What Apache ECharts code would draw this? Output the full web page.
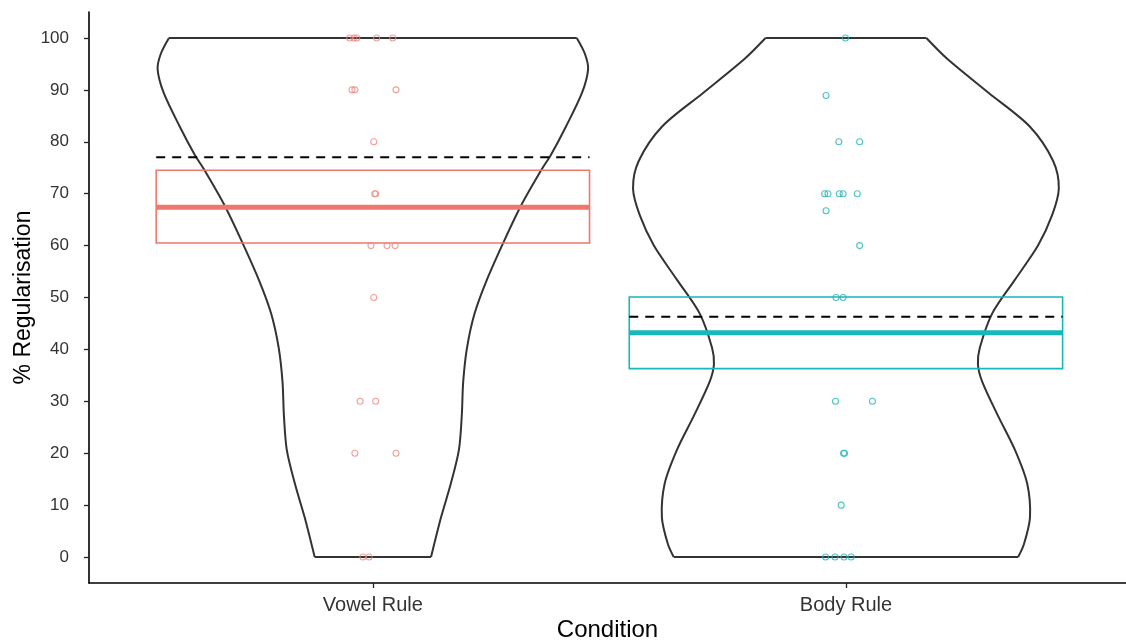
<!DOCTYPE html>
<html><head><meta charset="utf-8">
<script src="https://cdn.jsdelivr.net/npm/echarts@6/dist/echarts.min.js"></script>
<style>html,body{margin:0;padding:0;background:#fff}#c{width:1126px;height:643px}</style>
</head><body><div id="c"></div>
<script>
// ---- data ----
const categories = ['Vowel Rule', 'Body Rule'];
const categoryX = [1, 2];
const yTicks = [0, 10, 20, 30, 40, 50, 60, 70, 80, 90, 100];
const xTitle = 'Condition';
const yTitle = '% Regularisation';

// violin density profiles: value and half-width (in x-axis units)
const vowelViolinY    = [0, 7.6, 14.2, 20.7, 27.3, 33.8, 40.3, 46.9, 53.4, 61.2, 68, 75, 77.4, 82.9, 89.4, 94, 97, 100];
const vowelViolinHalf = [0.123, 0.144, 0.165, 0.182, 0.188, 0.191, 0.199, 0.215, 0.241, 0.279, 0.315, 0.359, 0.376, 0.408, 0.442, 0.455, 0.448, 0.431];
const bodyViolinY     = [0, 2.4, 7.6, 14.2, 20.7, 27.3, 33.8, 37.1, 40.3, 46.9, 53.4, 60, 65.9, 71, 76.3, 82.9, 89.4, 96, 100];
const bodyViolinHalf  = [0.364, 0.376, 0.389, 0.383, 0.357, 0.321, 0.288, 0.279, 0.283, 0.309, 0.357, 0.406, 0.436, 0.450, 0.438, 0.389, 0.302, 0.214, 0.170];

// crossbar summaries per condition
const boxLow    = [60.5, 36.3];
const boxMid    = [67.4, 43.2];
const boxHigh   = [74.5, 50.1];
const dashedRef = [77.0, 46.3];

// individual participants (jittered x positions, value)
const vowelX = [0.951, 0.960, 0.966, 1.008, 1.042, 0.956, 0.962, 1.049, 1.002, 1.004, 1.006, 0.996, 1.030, 1.047, 1.002, 0.973, 1.006, 0.962, 1.049, 0.979, 0.992];
const vowelY = [100, 100, 100, 100, 100, 90, 90, 90, 80, 70, 70, 60, 60, 60, 50, 30, 30, 20, 20, 0, 0];
const bodyX  = [1.999, 1.958, 1.985, 2.029, 1.955, 1.962, 1.986, 1.994, 2.024, 1.958, 2.029, 1.979, 1.994, 1.978, 2.056, 1.995, 1.997, 1.990, 1.957, 1.977, 1.996, 2.011];
const bodyY  = [100, 88.9, 80, 80, 70, 70, 70, 70, 70, 66.7, 60, 50, 50, 30, 30, 20, 20, 10, 0, 0, 0, 0];

// ---- styling ----
const FONT = 'Liberation Sans, Arial, sans-serif';
const groupColors = ['#F0776E', '#17B7BB'];
const pointColors = ['#EC8A83', '#2AB3B6'];
const BOX_HALF = 0.458;

const violinY = [vowelViolinY, bodyViolinY];
const violinHalf = [vowelViolinHalf, bodyViolinHalf];

function violinItem(params, api) {
  const i = params.dataIndex;
  const cx = api.value(0);
  const ys = violinY[i], hs = violinHalf[i];
  const left = ys.map((y, k) => api.coord([cx - hs[k], y]));
  const right = ys.map((y, k) => api.coord([cx + hs[k], y]));
  const n = ys.length - 1;
  const st = { stroke: '#333', lineWidth: 2, fill: 'none' };
  return { type: 'group', children: [
    { type: 'polyline', shape: { points: left, smooth: 0.3 }, style: st },
    { type: 'polyline', shape: { points: right, smooth: 0.3 }, style: st },
    { type: 'line', shape: { x1: left[0][0], y1: left[0][1], x2: right[0][0], y2: right[0][1] }, style: st },
    { type: 'line', shape: { x1: left[n][0], y1: left[n][1], x2: right[n][0], y2: right[n][1] }, style: st }
  ]};
}

function boxItem(params, api) {
  const i = params.dataIndex;
  const cx = api.value(0);
  const c = groupColors[i];
  const tl = api.coord([cx - BOX_HALF, boxHigh[i]]);
  const br = api.coord([cx + BOX_HALF, boxLow[i]]);
  const ml = api.coord([cx - BOX_HALF, boxMid[i]]);
  const mr = api.coord([cx + BOX_HALF, boxMid[i]]);
  const dl = api.coord([cx - BOX_HALF, dashedRef[i]]);
  const dr = api.coord([cx + BOX_HALF, dashedRef[i]]);
  return { type: 'group', children: [
    { type: 'rect', shape: { x: tl[0], y: tl[1], width: br[0] - tl[0], height: br[1] - tl[1] },
      style: { stroke: c, lineWidth: 1.6, fill: 'none' } },
    { type: 'line', shape: { x1: ml[0], y1: ml[1], x2: mr[0], y2: mr[1] },
      style: { stroke: c, lineWidth: 5 } },
    { type: 'line', shape: { x1: dl[0], y1: dl[1], x2: dr[0], y2: dr[1] },
      style: { stroke: '#000', lineWidth: 2, lineDash: [9, 7] } }
  ]};
}

const chart = echarts.init(document.getElementById('c'), null, { renderer: 'canvas' });
chart.setOption({
  animation: false,
  backgroundColor: '#fff',
  textStyle: { fontFamily: FONT },
  grid: { left: 89, right: 0, top: 12, bottom: 60, containLabel: false, outerBoundsMode: 'none' },
  xAxis: {
    type: 'value', min: 0.4, max: 2.592,
    name: xTitle, nameLocation: 'middle', nameGap: 35, nameMoveOverlap: false,
    nameTextStyle: { fontSize: 24, color: '#000', fontFamily: FONT },
    axisLine: { show: true, onZero: false, lineStyle: { color: '#000', width: 1.6 } },
    axisTick: { show: true, customValues: categoryX, length: 5, lineStyle: { color: '#222', width: 1.3 } },
    axisLabel: { customValues: categoryX, formatter: v => categories[categoryX.indexOf(v)] || '',
      fontSize: 20, color: '#333', margin: 12, fontFamily: FONT },
    splitLine: { show: false }
  },
  yAxis: {
    type: 'value', min: -5, max: 105,
    name: yTitle, nameLocation: 'middle', nameGap: 54, nameRotate: 90, nameMoveOverlap: false,
    nameTextStyle: { fontSize: 23, color: '#000', fontFamily: FONT },
    axisLine: { show: true, onZero: false, lineStyle: { color: '#000', width: 1.6 } },
    axisTick: { show: true, customValues: yTicks, length: 5, lineStyle: { color: '#222', width: 1.3 } },
    axisLabel: { customValues: yTicks, fontSize: 17, color: '#333', margin: 20, fontFamily: FONT },
    splitLine: { show: false }
  },
  series: [
    { type: 'custom', renderItem: violinItem, data: categoryX.map(x => [x, 0]), encode: { x: 0, y: 1 }, z: 2 },
    { type: 'custom', renderItem: boxItem, data: categoryX.map(x => [x, 0]), encode: { x: 0, y: 1 }, z: 3 },
    { type: 'scatter', data: vowelX.map((x, k) => [x, vowelY[k]]), symbol: 'circle', symbolSize: 6, z: 4,
      itemStyle: { color: 'rgba(0,0,0,0)', borderColor: pointColors[0], borderWidth: 1.1 } },
    { type: 'scatter', data: bodyX.map((x, k) => [x, bodyY[k]]), symbol: 'circle', symbolSize: 6, z: 4,
      itemStyle: { color: 'rgba(0,0,0,0)', borderColor: pointColors[1], borderWidth: 1.1 } }
  ]
});
</script></body></html>
